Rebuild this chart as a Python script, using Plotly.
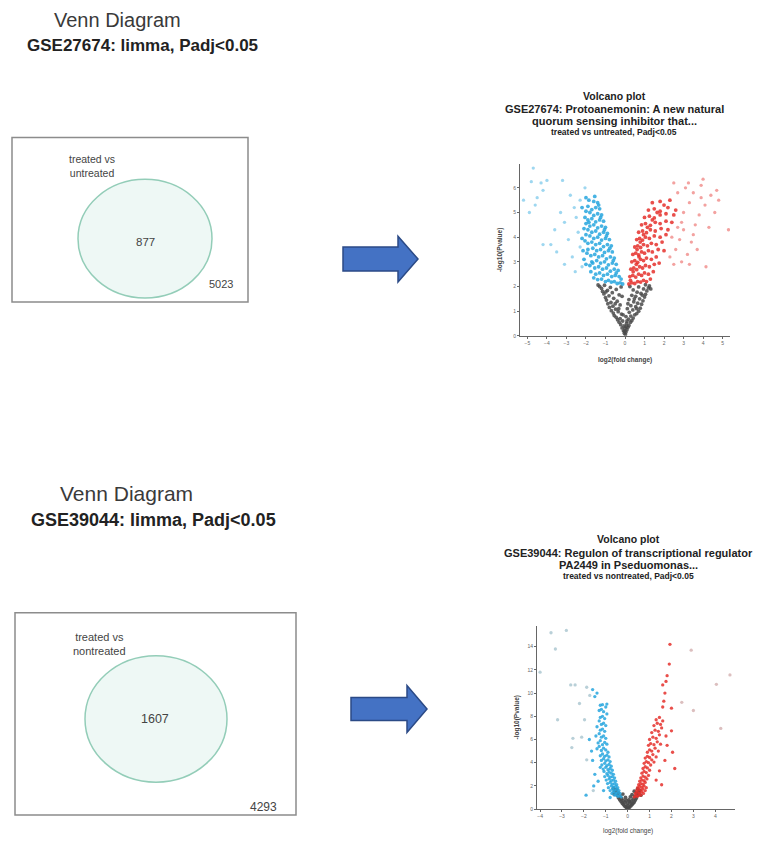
import plotly.graph_objects as go

W, H = 757, 845
FONT = "Liberation Sans, Arial, sans-serif"

# ---------------- Venn data ----------------
venn1_title = "Venn Diagram"
venn1_sub = "GSE27674: limma, Padj<0.05"
venn1_label = "treated vs<br>untreated"
venn1_in = 877
venn1_out = 5023

venn2_title = "Venn Diagram"
venn2_sub = "GSE39044: limma, Padj<0.05"
venn2_label = "treated vs<br>nontreated"
venn2_in = 1607
venn2_out = 4293

# ---------------- Volcano 1 data (GSE27674) ----------------
v1_title = ["Volcano plot", "GSE27674: Protoanemonin: A new natural",
            "quorum sensing inhibitor that...", "treated vs untreated, Padj<0.05"]
v1_ns = [(0.02,0.05),(-0.03,0.1),(0.05,0.15),(-0.08,0.2),(0.1,0.25),(0.0,0.3),(-0.15,0.32),(0.15,0.35),
         (-0.05,0.4),(0.2,0.42),(-0.22,0.45),(0.08,0.5),(-0.3,0.55),(0.28,0.55),(-0.12,0.6),(0.35,0.62),
         (-0.38,0.65),(0.18,0.68),(-0.25,0.7),(0.42,0.72),(-0.45,0.75),(0.05,0.78),(0.3,0.8),(-0.55,0.82),
         (0.5,0.85),(-0.18,0.88),(0.6,0.9),(-0.6,0.92),(0.22,0.95),(-0.35,0.98),(0.7,1.0),(-0.7,1.02),
         (0.4,1.05),(-0.48,1.08),(0.12,1.1),(0.78,1.12),(-0.8,1.15),(0.55,1.18),(-0.62,1.2),(0.3,1.22),
         (-0.25,1.25),(0.85,1.28),(-0.88,1.3),(0.65,1.32),(-0.72,1.35),(0.45,1.38),(-0.4,1.4),(0.92,1.42),
         (-0.95,1.45),(0.2,1.47),(0.75,1.5),(-0.58,1.52),(-1.0,1.55),(1.0,1.57),(0.55,1.6),(-0.82,1.62),
         (0.35,1.64),(-0.3,1.66),(1.05,1.68),(-1.08,1.7),(0.82,1.72),(-0.65,1.75),(0.62,1.77),(-1.15,1.8),
         (1.12,1.82),(-0.9,1.84),(0.42,1.86),(-0.45,1.88),(0.95,1.9),(-1.2,1.92),(1.2,1.94),(-0.75,1.96),
         (0.7,1.98),(-1.3,2.0),(1.25,2.02),(-1.05,2.05),(1.05,2.07),(0.25,2.0),(-0.2,1.98),(0.1,0.6),
         (-0.1,0.85),(0.15,1.3),(-0.15,1.6),(0.6,1.1),(-0.5,1.3),(-0.02,0.18),(0.06,0.38),(-0.32,1.1),
         (0.48,1.5),(-1.38,2.06),(1.32,1.9),(-0.98,1.78),(0.88,1.65)]
v1_down = [(-0.12,2.1),(-0.25,2.15),(-0.4,2.12),(-0.55,2.2),(-0.7,2.18),(-0.85,2.25),(-1.0,2.2),(-1.2,2.3),
           (-1.4,2.28),(-1.6,2.35),(-0.3,2.4),(-0.5,2.45),(-0.68,2.4),(-0.9,2.5),(-1.1,2.45),(-1.3,2.55),
           (-1.5,2.5),(-1.75,2.6),(-0.35,2.65),(-0.55,2.7),(-0.75,2.62),(-0.95,2.75),(-1.15,2.7),(-1.35,2.8),
           (-1.55,2.75),(-1.8,2.85),(-2.0,2.9),(-0.45,2.9),(-0.65,2.95),(-0.85,2.88),(-1.05,3.0),(-1.25,2.95),
           (-1.45,3.05),(-1.7,3.0),(-2.1,3.1),(-0.55,3.15),(-0.75,3.2),(-0.95,3.12),(-1.15,3.25),(-1.35,3.2),
           (-1.55,3.3),(-1.75,3.25),(-1.95,3.35),(-0.65,3.4),(-0.85,3.45),(-1.05,3.38),(-1.25,3.5),(-1.45,3.45),
           (-1.65,3.55),(-1.9,3.5),(-2.15,3.45),(-0.7,3.65),(-0.9,3.7),(-1.1,3.62),(-1.3,3.75),(-1.5,3.7),
           (-1.7,3.8),(-1.9,3.75),(-2.05,3.85),(-0.8,3.9),(-1.0,3.95),(-1.2,3.88),(-1.4,4.0),(-1.6,3.95),
           (-1.8,4.05),(-2.0,4.1),(-0.9,4.15),(-1.1,4.2),(-1.3,4.12),(-1.5,4.25),(-1.7,4.2),(-1.9,4.3),
           (-2.1,4.35),(-1.0,4.4),(-1.2,4.45),(-1.4,4.38),(-1.6,4.5),(-1.8,4.45),(-2.0,4.55),(-1.1,4.65),
           (-1.3,4.7),(-1.5,4.62),(-1.7,4.75),(-1.9,4.7),(-2.05,4.8),(-1.2,4.9),(-1.4,4.95),(-1.6,4.88),
           (-1.8,5.0),(-2.0,5.05),(-1.3,5.15),(-1.5,5.2),(-1.7,5.12),(-1.9,5.25),(-1.4,5.4),(-1.6,5.45),
           (-1.85,5.5),(-2.0,5.6),(-1.55,5.65),(-0.2,2.3),(-0.45,2.55),(-0.6,3.05),(-0.78,3.55),(-0.95,4.05),
           (-1.05,4.3),(-1.25,4.8),(-1.35,5.3),(-2.2,3.95),(-2.2,5.2),(-1.65,2.95),(-1.85,4.6)]
v1_down_far = [(-2.3,3.6),(-2.4,4.2),(-2.5,4.8),(-2.6,5.2),(-2.3,5.5),(-2.7,3.2),(-2.9,3.9),(-2.2,2.8),
               (-2.55,2.6),(-3.1,4.6),(-3.3,5.0),(-2.8,5.7),(-2.05,6.0),(-3.5,3.4),(-3.1,2.9),(-4.7,6.8),
               (-5.2,5.5),(-4.9,5.0),(-4.6,5.3),(-4.5,5.6),(-4.3,6.2),(-4.0,6.3),(-3.2,6.3),(-4.2,5.9),
               (-4.2,3.7),(-3.8,3.7),(-3.6,4.3),(-4.8,6.25)]
v1_up = [(0.2,2.1),(0.35,2.15),(0.5,2.12),(0.65,2.2),(0.8,2.18),(0.95,2.25),(1.1,2.2),(1.3,2.3),(0.25,2.4),
         (0.4,2.45),(0.55,2.38),(0.7,2.5),(0.85,2.45),(1.0,2.55),(1.2,2.5),(1.45,2.6),(0.3,2.7),(0.45,2.75),
         (0.6,2.68),(0.75,2.8),(0.9,2.75),(1.05,2.85),(1.25,2.8),(1.5,2.9),(1.75,2.95),(0.35,3.0),(0.5,3.05),
         (0.65,2.98),(0.8,3.1),(0.95,3.05),(1.1,3.15),(1.35,3.1),(1.6,3.2),(0.4,3.3),(0.55,3.35),(0.7,3.28),
         (0.85,3.4),(1.0,3.35),(1.2,3.45),(1.4,3.4),(1.7,3.5),(2.0,3.45),(0.5,3.6),(0.65,3.65),(0.8,3.58),
         (0.95,3.7),(1.15,3.65),(1.35,3.75),(1.6,3.7),(1.9,3.8),(0.6,3.9),(0.75,3.95),(0.9,3.88),(1.05,4.0),
         (1.25,3.95),(1.5,4.05),(1.8,4.0),(2.1,4.1),(0.7,4.2),(0.9,4.25),(1.1,4.18),(1.3,4.3),(1.55,4.25),
         (1.85,4.35),(2.2,4.3),(0.85,4.5),(1.05,4.55),(1.3,4.48),(1.55,4.6),(1.8,4.55),(2.1,4.65),(2.4,4.6),
         (1.0,4.8),(1.25,4.85),(1.5,4.78),(1.8,4.9),(2.1,4.95),(2.5,4.9),(1.2,5.1),(1.5,5.15),(1.8,5.05),
         (2.2,5.2),(2.6,5.1),(1.4,5.4),(1.8,5.45),(2.3,5.5),(0.28,2.25),(0.42,2.6),(0.58,2.9),(0.72,3.2),
         (0.62,3.5),(0.78,3.8),(0.95,4.1),(1.15,4.4),(1.4,4.7),(1.65,5.0),(2.0,5.3)]
v1_up_far = [(2.3,3.2),(2.6,3.5),(2.8,3.9),(3.0,4.3),(2.5,2.9),(2.9,3.0),(3.2,3.3),(3.4,3.8),(3.6,4.5),
             (3.0,5.0),(3.3,5.4),(3.8,4.9),(4.1,5.3),(2.7,5.8),(3.1,6.0),(3.5,5.8),(3.9,6.1),(2.5,6.2),
             (4.4,5.7),(4.6,5.0),(4.3,4.4),(4.7,5.9),(3.25,6.2),(4.0,6.35),(2.9,4.6),(3.7,3.5),(4.15,2.8),
             (3.3,2.9),(5.3,4.3),(4.8,5.5),(3.5,4.1),(2.4,4.0),(2.7,4.4),(3.9,5.6)]

# ---------------- Volcano 2 data (GSE39044) ----------------
v2_title = ["Volcano plot", "GSE39044: Regulon of transcriptional regulator",
            "PA2449 in Pseduomonas...", "treated vs nontreated, Padj<0.05"]
v2_ns = [(0,0.05),(0.05,0.1),(-0.05,0.12),(0.1,0.2),(-0.1,0.22),(0.15,0.3),(-0.15,0.28),(0.02,0.3),
         (0.2,0.4),(-0.2,0.42),(-0.02,0.45),(0.25,0.5),(-0.25,0.52),(0.1,0.55),(-0.12,0.6),(0.3,0.62),
         (-0.3,0.65),(0.18,0.7),(-0.2,0.75),(0.35,0.78),(-0.36,0.8),(0.05,0.8),(0.25,0.88),(-0.28,0.92),
         (0.4,0.95),(-0.42,0.98),(-0.1,1.0),(0.12,1.05),(0.32,1.1),(-0.35,1.12),(0.45,1.18),(-0.48,1.2),
         (0.2,1.25),(-0.22,1.3),(0.4,1.35),(-0.42,1.4),(0.5,1.45),(-0.55,1.5),(0.3,1.55),(-0.6,1.6),
         (0.55,1.62),(-0.5,1.7),(0.45,1.75),(-0.65,1.8),(0.6,1.2),(-0.62,1.3),(0.08,0.65),(-0.06,0.72)]
v2_down = [(-0.3,1.05),(-0.38,1.15),(-0.45,1.1),(-0.52,1.25),(-0.6,1.2),(-0.35,1.35),(-0.45,1.45),
           (-0.55,1.4),(-0.65,1.5),(-0.72,1.35),(-0.4,1.6),(-0.5,1.7),(-0.6,1.65),(-0.7,1.75),(-0.8,1.6),
           (-0.45,1.85),(-0.55,1.95),(-0.65,1.9),(-0.75,2.0),(-0.88,1.85),(-0.5,2.1),(-0.6,2.2),(-0.7,2.15),
           (-0.8,2.3),(-0.92,2.2),(-0.55,2.4),(-0.65,2.5),(-0.75,2.45),(-0.85,2.6),(-0.98,2.5),(-0.6,2.7),
           (-0.7,2.8),(-0.8,2.75),(-0.9,2.9),(-1.05,2.8),(-0.65,3.0),(-0.75,3.1),(-0.85,3.2),(-0.95,3.05),
           (-1.08,3.25),(-0.7,3.35),(-0.8,3.5),(-0.9,3.4),(-1.0,3.6),(-1.12,3.45),(-0.75,3.7),(-0.85,3.85),
           (-0.95,3.75),(-1.05,3.95),(-1.18,3.8),(-0.8,4.1),(-0.9,4.25),(-1.0,4.15),(-1.1,4.35),(-1.2,4.2),
           (-0.85,4.5),(-0.95,4.65),(-1.05,4.55),(-1.15,4.75),(-1.25,4.6),(-0.9,4.9),(-1.0,5.1),(-1.1,5.25),
           (-1.2,5.05),(-1.3,5.4),(-0.95,5.6),(-1.05,5.75),(-1.15,5.55),(-1.25,5.9),(-1.35,5.7),(-1.0,6.1),
           (-1.1,6.3),(-1.2,6.2),(-1.3,6.5),(-1.05,6.7),(-1.15,6.9),(-1.25,6.8),(-1.0,7.2),(-1.1,7.4),
           (-1.2,7.3),(-1.3,7.6),(-1.05,7.8),(-1.15,8.0),(-1.25,7.9),(-0.95,8.2),(-1.1,8.4),(-1.2,8.6),
           (-1.3,8.5),(-1.0,8.8),(-1.15,9.0),(-1.25,8.95),(-0.95,9.05),(-1.5,3.0),(-1.65,5.0),(-1.45,6.3),
           (-1.4,7.1),(-1.6,4.2),(-1.35,2.4),(-1.55,2.0),(-1.75,6.0),(-1.5,9.7),(-1.6,10.3),(-1.4,10.0),
           (-1.9,1.2),(-1.25,3.6),(-1.4,5.2),(-0.8,1.0),(-1.1,1.6)]
v2_down_far = [(-3.5,15.2),(-2.8,15.4),(-3.3,13.8),(-4.0,11.8),(-2.6,10.7),(-2.4,10.7),(-2.2,9.1),
               (-3.2,7.7),(-1.97,7.7),(-2.5,6.1),(-2.55,5.3),(-2.1,6.2),(-1.87,4.25),(-1.57,1.6),
               (-1.87,10.5),(-1.73,9.8)]
v2_up = [(0.3,1.05),(0.38,1.15),(0.45,1.1),(0.52,1.25),(0.6,1.2),(0.35,1.35),(0.45,1.45),(0.55,1.4),
         (0.65,1.5),(0.72,1.35),(0.4,1.6),(0.5,1.7),(0.6,1.65),(0.7,1.75),(0.8,1.6),(0.45,1.85),(0.55,1.95),
         (0.65,1.9),(0.75,2.0),(0.85,1.85),(0.5,2.1),(0.6,2.2),(0.7,2.15),(0.8,2.3),(0.55,2.4),(0.65,2.5),
         (0.75,2.45),(0.88,2.6),(0.6,2.7),(0.7,2.85),(0.8,2.75),(0.95,2.9),(0.65,3.1),(0.75,3.25),(0.85,3.15),
         (1.0,3.35),(0.7,3.5),(0.8,3.65),(0.9,3.55),(1.05,3.8),(0.75,3.95),(0.85,4.1),(0.95,4.0),(1.1,4.25),
         (1.2,4.05),(0.8,4.4),(0.9,4.55),(1.0,4.45),(1.15,4.7),(1.3,4.5),(0.9,4.9),(1.0,5.1),(1.1,5.0),
         (1.25,5.25),(1.4,5.0),(0.95,5.5),(1.05,5.65),(1.2,5.55),(1.35,5.8),(1.5,5.6),(1.0,6.0),(1.15,6.2),
         (1.3,6.1),(1.45,6.4),(1.1,6.6),(1.25,6.8),(1.4,6.7),(1.55,7.0),(1.2,7.2),(1.35,7.4),(1.5,7.3),
         (1.3,7.7),(1.45,7.9),(1.6,7.6),(1.6,8.8),(1.65,9.3),(1.7,10.0),(1.6,10.7),(1.8,11.5),(1.9,12.5),
         (1.75,11.0),(1.93,14.2),(2.0,8.7),(2.0,6.75),(2.05,4.9),(2.15,3.5),(1.55,2.1),(1.7,4.2),(1.8,5.5),
         (1.45,3.3),(1.3,2.5),(1.75,6.3)]
v2_up_far = [(2.47,9.2),(3.0,8.5),(2.9,13.7),(4.67,11.56),(4.05,10.75),(4.25,6.95)]

BLUE, RED, GREY = "#27A6DE", "#E5302C", "#4A4A4A"


def px(x):
    return x / W


def py(y):
    return 1 - y / H


fig = go.Figure()


def add_pts(pts, color, xa, ya, size, op):
    fig.add_trace(go.Scatter(
        x=[p[0] for p in pts], y=[p[1] for p in pts], mode="markers",
        xaxis=xa, yaxis=ya, hoverinfo="skip", showlegend=False,
        marker=dict(color=color, size=size, opacity=op, line=dict(width=0))))


add_pts(v1_ns, GREY, "x", "y", 3.8, 0.85)
add_pts(v1_down, BLUE, "x", "y", 3.8, 0.85)
add_pts(v1_up, RED, "x", "y", 3.8, 0.85)
add_pts(v1_down_far, BLUE, "x", "y", 3.3, 0.45)
add_pts(v1_up_far, RED, "x", "y", 3.3, 0.45)

add_pts(v2_ns, GREY, "x2", "y2", 3.8, 0.9)
add_pts(v2_down, BLUE, "x2", "y2", 3.3, 0.85)
add_pts(v2_up, RED, "x2", "y2", 3.3, 0.85)
add_pts(v2_down_far, "#7FA9B8", "x2", "y2", 3.3, 0.55)
add_pts(v2_up_far, "#C08A8A", "x2", "y2", 3.3, 0.55)

ax_common = dict(showline=True, linecolor="#666", linewidth=1, ticks="outside", ticklen=2,
                 tickcolor="#666", tickfont=dict(size=5, color="#666", family=FONT),
                 showgrid=False, zeroline=False, fixedrange=True)

fig.update_layout(
    width=W, height=H, margin=dict(l=0, r=0, t=0, b=0),
    paper_bgcolor="white", plot_bgcolor="white", showlegend=False,
    font=dict(family=FONT),
    xaxis=dict(domain=[px(520), px(730)], range=[-5.38, 5.38], dtick=1, anchor="y", **ax_common),
    yaxis=dict(domain=[py(337), py(165)], range=[0, 6.95], dtick=1, anchor="x", **ax_common),
    xaxis2=dict(domain=[px(537), px(735)], range=[-4.14, 4.9], dtick=1, anchor="y2", **ax_common),
    yaxis2=dict(domain=[py(812), py(628)], range=[0, 15.8], dtick=2, anchor="x2", **ax_common),
)

shapes = []
# Venn boxes
shapes.append(dict(type="rect", xref="paper", yref="paper", x0=px(12), x1=px(248), y0=py(303), y1=py(138),
                   line=dict(color="#8c8c8c", width=1.5), fillcolor="rgba(0,0,0,0)"))
shapes.append(dict(type="circle", xref="paper", yref="paper", x0=px(78), x1=px(212), y0=py(299), y1=py(180),
                   line=dict(color="#93CDB8", width=1.5), fillcolor="#EEF8F5"))
shapes.append(dict(type="rect", xref="paper", yref="paper", x0=px(15), x1=px(296), y0=py(818), y1=py(615),
                   line=dict(color="#8c8c8c", width=1.5), fillcolor="rgba(0,0,0,0)"))
shapes.append(dict(type="circle", xref="paper", yref="paper", x0=px(85), x1=px(227), y0=py(785), y1=py(658),
                   line=dict(color="#93CDB8", width=1.5), fillcolor="#EEF8F5"))


def arrow(x0, xb, xt, yc, hs, hh):
    pts = [(x0, yc - hs), (xb, yc - hs), (xb, yc - hh), (xt, yc), (xb, yc + hh), (xb, yc + hs), (x0, yc + hs)]
    path = "M " + " L ".join(f"{px(a):.5f},{py(b):.5f}" for a, b in pts) + " Z"
    return dict(type="path", xref="paper", yref="paper", path=path,
                fillcolor="#4472C4", line=dict(color="#2B4A86", width=1.5))


shapes.append(arrow(343, 398, 418, 260, 12, 23))
shapes.append(arrow(351, 407, 427, 711.5, 11.5, 23.5))
fig.update_layout(shapes=shapes)

ann = []


def text(t, x, y, size, bold=False, color="#333", anchor="center", angle=0):
    if bold:
        t = f"<b>{t}</b>"
    ann.append(dict(text=t, x=px(x), y=py(y), xref="paper", yref="paper", showarrow=False,
                    xanchor=anchor, yanchor="middle", textangle=angle,
                    font=dict(size=size, color=color, family=FONT)))


# Venn 1
text(venn1_title, 52, 20, 20, color="#3a3a3a", anchor="left")
text(venn1_sub, 25, 46, 17, bold=True, color="#222", anchor="left")
text(venn1_label, 92, 167, 10.5, color="#444")
text(str(venn1_in), 145, 243, 11.5, color="#444")
text(str(venn1_out), 221, 285, 11, color="#444")
# Venn 2
text(venn2_title, 58, 495, 21, color="#3a3a3a", anchor="left")
text(venn2_sub, 29, 522, 18, bold=True, color="#222", anchor="left")
text(venn2_label, 99, 646, 11, color="#444")
text(str(venn2_in), 155, 722, 12.5, color="#444")
text(str(venn2_out), 263, 810, 12, color="#444")

# Volcano 1 titles
for t, yy, sz in zip(v1_title, [96, 109, 121, 132], [10.5, 11, 11, 8.5]):
    text(t, 614, yy, sz, bold=True, color="#222")
text("log2(fold change)", 625, 361, 6.5, bold=True, color="#444")
text("-log10(Pvalue)", 500, 251, 6.5, bold=True, color="#444", angle=-90)

# Volcano 2 titles
for t, yy, sz in zip(v2_title, [541, 555, 567, 578], [10.5, 11, 11, 8.5]):
    text(t, 628, yy, sz, bold=True, color="#222")
text("log2(fold change)", 628, 834, 6.5, color="#444")
text("-log10(Pvalue)", 517, 720, 6.5, bold=True, color="#444", angle=-90)

fig.update_layout(annotations=ann)

fig.write_html("out.html", config={"displayModeBar": False},
               post_script="document.body.style.margin='0';document.body.style.overflow='hidden';")
